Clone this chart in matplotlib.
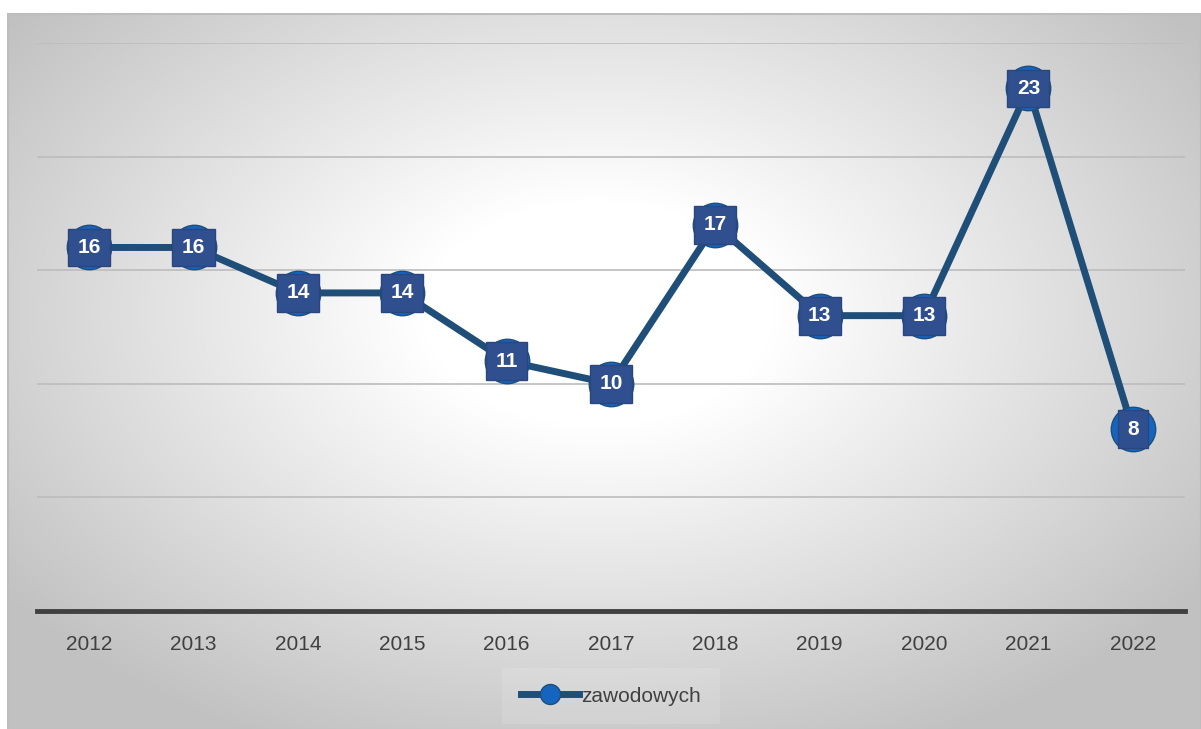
import matplotlib.pyplot as plt
import numpy as np

years = ['2012', '2013', '2014', '2015', '2016', '2017', '2018', '2019', '2020', '2021', '2022']
values = [16, 16, 14, 14, 11, 10, 17, 13, 13, 23, 8]
series_name = 'zawodowych'

plt.rcParams['font.family'] = ['Liberation Sans', 'DejaVu Sans']

W, H = 1201, 729
fig = plt.figure(figsize=(W / 100, H / 100), dpi=100)

# radial gradient background (chart area box)
bg = fig.add_axes([7 / W, 0, (W - 7) / W, (H - 13) / H])
bw, bh = W - 7, H - 13
xx, yy = np.meshgrid(np.arange(bw), np.arange(bh))
r = np.sqrt(((xx - 590) / 700) ** 2 + ((yy - 300) / 450) ** 2)
v = 1 - 0.24 * np.clip((r - 0.25) / 0.8, 0, 1)
bg.imshow(np.dstack([v, v, v]), aspect='auto', interpolation='bilinear')
bg.set_axis_off()
bg.add_patch(plt.Rectangle((0, 0), bw - 1, bh, fill=False, edgecolor='#bdbdbd', lw=1.5))

ax = fig.add_axes([37 / W, (H - 611) / H, 1148 / W, 568 / H])
ax.patch.set_alpha(0)
x = np.arange(len(years))
ax.set_xlim(-0.5, len(years) - 0.5)
ax.set_ylim(0, 25)
for g in [5, 10, 15, 20, 25]:
    ax.axhline(g, color='#bcbcbc', lw=1.2, zorder=1)
ax.axhline(0, color='#404040', lw=3.5, zorder=2, clip_on=False)

line, = ax.plot(x, values, color='#1f4e79', lw=5, marker='o', markersize=32,
                markerfacecolor='#1565c0', markeredgecolor='#1f4e79', markeredgewidth=1,
                zorder=3, label=series_name, clip_on=False)
for xi, val in zip(x, values):
    ax.text(xi, val, str(val), ha='center', va='center', color='white', fontsize=15,
            fontweight='bold', zorder=4,
            bbox=dict(boxstyle='square,pad=0.45', facecolor='#2f4f8f', edgecolor='#2a4680', lw=1))

ax.set_xticks(x)
ax.set_xticklabels(years, fontsize=15, color='#404040')
ax.tick_params(axis='x', length=0, pad=17)
ax.set_yticks([])
for s in ax.spines.values():
    s.set_visible(False)

leg = fig.legend(handles=[line], labels=[series_name], loc='center',
                 bbox_to_anchor=(611 / W, 1 - 696 / H), fontsize=15, frameon=True,
                 handlelength=2.8, handletextpad=0.1, markerscale=0.45, borderpad=0.6)
leg.get_frame().set_facecolor('white')
leg.get_frame().set_alpha(0.12)
leg.get_frame().set_edgecolor('none')
leg.get_frame().set_boxstyle('square')
for t in leg.get_texts():
    t.set_color('#404040')

fig.savefig('out.png', dpi=100)
